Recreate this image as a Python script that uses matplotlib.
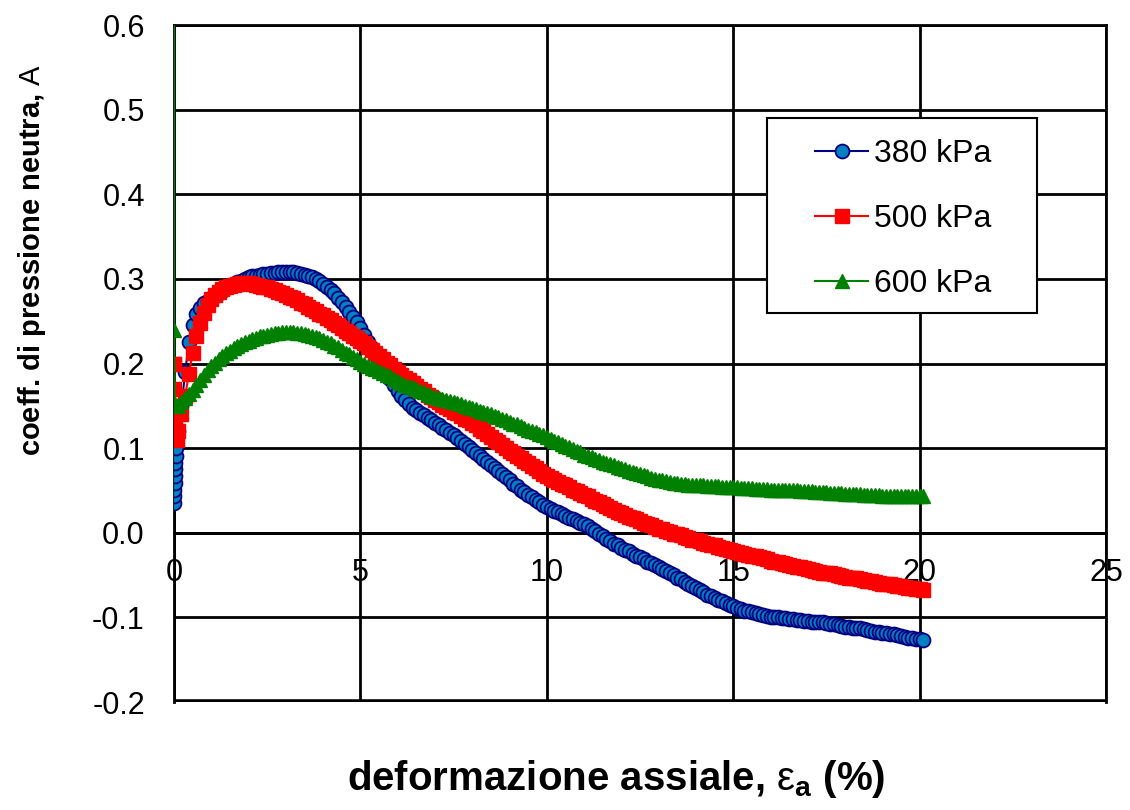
import numpy as np
import matplotlib.pyplot as plt
from matplotlib.patches import Rectangle
from matplotlib.ticker import FormatStrFormatter

plt.rcParams['font.family'] = ['Liberation Sans', 'DejaVu Sans']
plt.rcParams['mathtext.fontset'] = 'custom'
plt.rcParams['mathtext.rm'] = 'Liberation Sans'
plt.rcParams['mathtext.bf'] = 'Liberation Sans:bold'
plt.rcParams['axes.unicode_minus'] = False

# readings at strain = 0.1 ... 20.0 % (step 0.1)
strain = np.round(np.arange(1, 201) * 0.1, 1)

# 380 kPa
start_x_380 = [0.0, 0.005, 0.01, 0.015, 0.02, 0.025, 0.03, 0.04, 0.05]
start_A_380 = [0.035, 0.043, 0.051, 0.059, 0.067, 0.075, 0.083, 0.091, 0.100]
A_380 = [
    0.120, 0.150, 0.190, 0.225, 0.245, 0.258, 0.266, 0.271, 0.274, 0.277,
    0.280, 0.283, 0.286, 0.289, 0.292, 0.294, 0.296, 0.298, 0.300, 0.302,
    0.303, 0.304, 0.305, 0.306, 0.306, 0.307, 0.307, 0.308, 0.308, 0.308,
    0.308, 0.308, 0.307, 0.306, 0.305, 0.304, 0.302, 0.300, 0.297, 0.294,
    0.291, 0.287, 0.283, 0.278, 0.273, 0.267, 0.261, 0.255, 0.249, 0.242,
    0.234, 0.226, 0.218, 0.210, 0.203, 0.196, 0.189, 0.182, 0.175, 0.168,
    0.162, 0.157, 0.152, 0.148, 0.145, 0.142, 0.139, 0.136, 0.133, 0.130,
    0.127, 0.124, 0.121, 0.118, 0.115, 0.112, 0.108, 0.105, 0.101, 0.098,
    0.094, 0.091, 0.087, 0.084, 0.080, 0.077, 0.073, 0.069, 0.066, 0.062,
    0.058, 0.055, 0.051, 0.048, 0.045, 0.042, 0.039, 0.036, 0.033, 0.030,
    0.028, 0.026, 0.024, 0.022, 0.020, 0.018, 0.016, 0.014, 0.012, 0.010,
    0.008, 0.005, 0.002, -0.001, -0.004, -0.007, -0.010, -0.013, -0.015, -0.018,
    -0.020, -0.022, -0.025, -0.027, -0.029, -0.031, -0.034, -0.036, -0.038, -0.040,
    -0.043, -0.045, -0.048, -0.050, -0.053, -0.055, -0.058, -0.060, -0.063, -0.065,
    -0.068, -0.070, -0.073, -0.075, -0.077, -0.079, -0.081, -0.083, -0.085, -0.087,
    -0.089, -0.090, -0.092, -0.093, -0.094, -0.095, -0.096, -0.097, -0.098, -0.099,
    -0.100, -0.100, -0.101, -0.101, -0.102, -0.102, -0.103, -0.103, -0.104, -0.104,
    -0.105, -0.105, -0.106, -0.106, -0.107, -0.108, -0.108, -0.109, -0.110, -0.111,
    -0.111, -0.112, -0.113, -0.113, -0.114, -0.115, -0.116, -0.117, -0.117, -0.118,
    -0.119, -0.120, -0.120, -0.121, -0.122, -0.123, -0.124, -0.124, -0.125, -0.126,
]
end_x_380 = [20.1]
end_A_380 = [-0.127]

# 500 kPa
start_x_500 = [0.0, 0.0, 0.01, 0.02, 0.03, 0.05, 0.07]
start_A_500 = [0.200, 0.200, 0.170, 0.150, 0.130, 0.115, 0.110]
A_500 = [
    0.120, 0.140, 0.162, 0.188, 0.212, 0.232, 0.248, 0.260, 0.269, 0.276,
    0.281, 0.285, 0.288, 0.290, 0.292, 0.293, 0.294, 0.295, 0.295, 0.295,
    0.294, 0.293, 0.292, 0.291, 0.290, 0.288, 0.287, 0.285, 0.283, 0.281,
    0.279, 0.277, 0.275, 0.272, 0.270, 0.267, 0.265, 0.262, 0.259, 0.257,
    0.254, 0.251, 0.248, 0.245, 0.242, 0.239, 0.236, 0.233, 0.230, 0.227,
    0.224, 0.220, 0.216, 0.213, 0.209, 0.205, 0.201, 0.198, 0.194, 0.190,
    0.187, 0.183, 0.180, 0.177, 0.173, 0.170, 0.167, 0.163, 0.160, 0.157,
    0.154, 0.151, 0.149, 0.146, 0.143, 0.141, 0.138, 0.135, 0.133, 0.130,
    0.127, 0.123, 0.120, 0.117, 0.113, 0.110, 0.107, 0.104, 0.100, 0.097,
    0.094, 0.091, 0.088, 0.085, 0.082, 0.079, 0.076, 0.073, 0.070, 0.067,
    0.065, 0.062, 0.060, 0.058, 0.056, 0.054, 0.051, 0.049, 0.047, 0.045,
    0.043, 0.040, 0.038, 0.036, 0.034, 0.032, 0.029, 0.027, 0.025, 0.023,
    0.021, 0.019, 0.017, 0.016, 0.014, 0.012, 0.010, 0.009, 0.007, 0.005,
    0.004, 0.002, 0.001, -0.001, -0.002, -0.003, -0.005, -0.006, -0.008, -0.009,
    -0.010, -0.012, -0.013, -0.014, -0.015, -0.017, -0.018, -0.019, -0.020, -0.022,
    -0.023, -0.024, -0.025, -0.026, -0.027, -0.028, -0.029, -0.030, -0.031, -0.033,
    -0.034, -0.035, -0.036, -0.037, -0.038, -0.039, -0.040, -0.041, -0.042, -0.043,
    -0.044, -0.045, -0.046, -0.047, -0.048, -0.048, -0.049, -0.050, -0.051, -0.052,
    -0.053, -0.054, -0.054, -0.055, -0.056, -0.057, -0.057, -0.058, -0.059, -0.060,
    -0.061, -0.061, -0.062, -0.063, -0.063, -0.064, -0.065, -0.065, -0.066, -0.067,
]
end_x_500 = [20.1]
end_A_500 = [-0.068]

# 600 kPa
start_x_600 = [0.0, 0.0, 0.02]
start_A_600 = [0.750, 0.240, 0.152]
A_600 = [
    0.150, 0.154, 0.159, 0.164, 0.169, 0.175, 0.181, 0.187, 0.192, 0.197,
    0.201, 0.205, 0.209, 0.212, 0.215, 0.218, 0.221, 0.223, 0.225, 0.227,
    0.229, 0.230, 0.232, 0.233, 0.234, 0.235, 0.236, 0.236, 0.237, 0.237,
    0.237, 0.237, 0.236, 0.236, 0.235, 0.234, 0.233, 0.231, 0.230, 0.228,
    0.226, 0.224, 0.221, 0.219, 0.216, 0.213, 0.211, 0.208, 0.205, 0.202,
    0.199, 0.197, 0.195, 0.193, 0.191, 0.189, 0.187, 0.185, 0.182, 0.179,
    0.177, 0.175, 0.173, 0.172, 0.170, 0.168, 0.166, 0.164, 0.162, 0.160,
    0.159, 0.158, 0.157, 0.156, 0.155, 0.153, 0.152, 0.150, 0.149, 0.147,
    0.146, 0.144, 0.143, 0.141, 0.140, 0.138, 0.137, 0.135, 0.133, 0.131,
    0.129, 0.128, 0.126, 0.124, 0.122, 0.120, 0.119, 0.117, 0.115, 0.113,
    0.111, 0.109, 0.107, 0.105, 0.103, 0.101, 0.099, 0.097, 0.095, 0.092,
    0.091, 0.089, 0.087, 0.086, 0.084, 0.083, 0.081, 0.080, 0.078, 0.076,
    0.075, 0.073, 0.072, 0.071, 0.069, 0.068, 0.067, 0.065, 0.064, 0.062,
    0.062, 0.061, 0.060, 0.059, 0.059, 0.058, 0.058, 0.057, 0.057, 0.056,
    0.056, 0.056, 0.055, 0.055, 0.055, 0.055, 0.054, 0.054, 0.054, 0.054,
    0.054, 0.053, 0.053, 0.053, 0.053, 0.052, 0.052, 0.052, 0.052, 0.051,
    0.051, 0.051, 0.051, 0.050, 0.050, 0.050, 0.050, 0.049, 0.049, 0.049,
    0.049, 0.048, 0.048, 0.048, 0.048, 0.047, 0.047, 0.047, 0.047, 0.046,
    0.046, 0.046, 0.046, 0.046, 0.045, 0.045, 0.045, 0.045, 0.045, 0.044,
    0.044, 0.044, 0.044, 0.044, 0.043, 0.043, 0.043, 0.043, 0.043, 0.043,
]
end_x_600 = [20.1]
end_A_600 = [0.043]

x_ticks = [0, 5, 10, 15, 20, 25]
y_ticks = [-0.2, -0.1, 0.0, 0.1, 0.2, 0.3, 0.4, 0.5, 0.6]

x380 = np.concatenate([start_x_380, strain, end_x_380])
y380 = np.concatenate([start_A_380, A_380, end_A_380])
x500 = np.concatenate([start_x_500, strain, end_x_500])
y500 = np.concatenate([start_A_500, A_500, end_A_500])
x600 = np.concatenate([start_x_600, strain, end_x_600])
y600 = np.concatenate([start_A_600, A_600, end_A_600])

fig = plt.figure(figsize=(11.3, 8.1), dpi=100)
ax = fig.add_axes([0.154, 0.1333, 0.8248, 0.8357])

ax.plot(x380, y380, '-o', color='#000080', lw=1.5, ms=10,
        mfc='#0080C0', mec='#000080', mew=1.3, label='380 kPa', zorder=2.6)
ax.plot(x500, y500, '-s', color='#FF0000', lw=1.5, ms=10.5,
        mfc='#FF0000', mec='#FF0000', label='500 kPa', zorder=2.7)
ax.plot(x600, y600, '-^', color='#008000', lw=1.5, ms=10,
        mfc='#008000', mec='#008000', label='600 kPa', zorder=2.8)

ax.set_xlim(0, 25)
ax.set_ylim(-0.2, 0.6)
ax.set_xticks(x_ticks)
ax.set_yticks(y_ticks)
ax.yaxis.set_major_formatter(FormatStrFormatter('%.1f'))
ax.grid(True, color='black', lw=2.0)
ax.set_axisbelow(True)

for s in ['top', 'right', 'left']:
    ax.spines[s].set_linewidth(2.0)
ax.spines['bottom'].set_position(('data', 0))
ax.spines['bottom'].set_linewidth(2.0)
ax.axhline(-0.2, color='black', lw=4.0, zorder=1)

ax.tick_params(axis='both', length=0, labelsize=22)
ax.tick_params(axis='x', pad=18)
ax.tick_params(axis='y', pad=21)

ax.set_xlabel(r'deformazione assiale, $\mathrm{ε}_{\mathbf{a}}$ (%)',
              fontsize=29, fontweight='bold')
ax.set_ylabel(r'coeff. di pressione neutra, $\mathrm{A}$', fontsize=21,
              fontweight='bold')
ax.xaxis.set_label_coords(0.474, -0.083)
ax.yaxis.set_label_coords(-0.135, 0.653)

# legend box
ax.add_patch(Rectangle((0.636, 0.5746), 0.29, 0.288, transform=ax.transAxes,
                       facecolor='white', edgecolor='black', lw=1.5, zorder=4))
leg = ax.legend(loc='upper left', bbox_to_anchor=(0.688, 0.832), frameon=False,
                fontsize=23, borderpad=0, borderaxespad=0, labelspacing=1.1,
                handlelength=1.66, handletextpad=0.19)
leg.set_zorder(6)

fig.savefig('out.png', dpi=100)
